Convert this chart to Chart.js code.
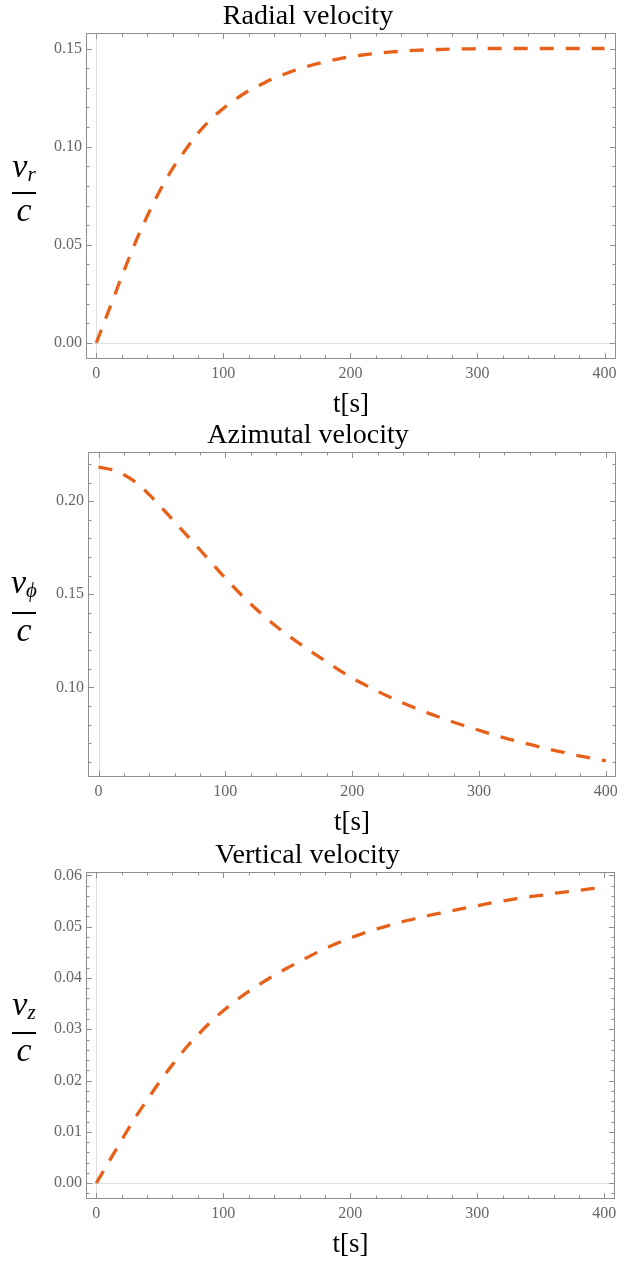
<!DOCTYPE html>
<html>
<head>
<meta charset="utf-8">
<script src="https://cdn.jsdelivr.net/npm/chart.js@4.4.0/dist/chart.umd.min.js"></script>
<style>
  html, body { margin:0; padding:0; background:#fff; }
  body { width:631px; height:1264px; position:relative; overflow:hidden; font-family:"Liberation Serif", serif; }
  .panel { position:absolute; left:0; width:631px; }
  .frac { position:absolute; left:-1px; width:50px; display:flex; flex-direction:column; align-items:center;
          font-family:"Liberation Serif", serif; font-style:italic; font-size:34px; color:#000; }
  .frac .num { line-height:32px; height:32px; white-space:nowrap; }
  .frac .num sub { font-size:21px; vertical-align:-4px; line-height:0; }
  .frac .bar { width:24px; height:1.5px; background:#000; }
  .frac .den { line-height:32px; }
</style>
</head>
<body>

<div class="panel" style="top:0px;height:421px"><canvas id="radial" width="631" height="421"></canvas></div>
<div class="panel" style="top:419px;height:420px"><canvas id="azim" width="631" height="420"></canvas></div>
<div class="panel" style="top:839px;height:422px"><canvas id="vert" width="631" height="422"></canvas></div>

<div class="frac" style="top:150px"><div class="num">v<sub>r</sub></div><div class="bar" style="margin-top:10px"></div><div class="den">c</div></div>
<div class="frac" style="top:566px"><div class="num">v<sub>ϕ</sub></div><div class="bar" style="margin-top:14px"></div><div class="den">c</div></div>
<div class="frac" style="top:988px"><div class="num">v<sub>z</sub></div><div class="bar" style="margin-top:12px"></div><div class="den">c</div></div>

<script>
// ── Data ───────────────────────────────────────────────────
const times = [0, 10, 20, 30, 40, 50, 60, 70, 80, 90, 100, 110, 120, 130, 140, 150, 160, 170, 180, 190,
               200, 210, 220, 230, 240, 250, 260, 270, 280, 290, 300, 310, 320, 330, 340, 350, 360, 370, 380, 390, 400];

const radialVel = [0, 0.0168, 0.0338, 0.0500, 0.0645, 0.0775, 0.0888, 0.0982, 0.1068, 0.1138,
                   0.1195, 0.1243, 0.1285, 0.1318, 0.1349, 0.1374, 0.1397, 0.1416, 0.1432, 0.1446,
                   0.1458, 0.1467, 0.1475, 0.1481, 0.1486, 0.1490, 0.1493, 0.1495, 0.1497, 0.1498,
                   0.1499, 0.1500, 0.1500, 0.1500, 0.1500, 0.1500, 0.1500, 0.1500, 0.1500, 0.1500, 0.1500];

const azimVel = [0.2183, 0.2170, 0.2142, 0.2098, 0.2035, 0.1964, 0.1889, 0.1814, 0.1739, 0.1662,
                 0.1586, 0.1515, 0.1448, 0.1386, 0.1328, 0.1277, 0.1228, 0.1182, 0.1137, 0.1092,
                 0.1050, 0.1014, 0.0979, 0.0947, 0.0917, 0.0888, 0.0862, 0.0837, 0.0813, 0.0791,
                 0.0770, 0.0749, 0.0729, 0.0711, 0.0694, 0.0677, 0.0661, 0.0646, 0.0631, 0.0618, 0.0606];

const vertVel = [0, 0.0042, 0.0084, 0.0125, 0.0162, 0.0198, 0.0231, 0.0262, 0.0289, 0.0314,
                 0.0336, 0.0356, 0.0374, 0.0390, 0.0405, 0.0419, 0.0432, 0.0445, 0.0457, 0.0468,
                 0.0478, 0.0487, 0.0495, 0.0502, 0.0509, 0.0515, 0.0521, 0.0526, 0.0531, 0.0536,
                 0.0541, 0.0546, 0.0550, 0.0554, 0.0558, 0.0561, 0.0565, 0.0568, 0.0571, 0.0574, 0.0577];

const titles = ['Radial velocity', 'Azimutal velocity', 'Vertical velocity'];
const xTitle = 't[s]';
const xMajor = 100, xMinor = 20;

const LINE = '#e8611a';
const FRAME = '#8e8e8e';
const SERIF = '"Liberation Serif", "DejaVu Serif", serif';

// ── Frame with inward ticks (Mathematica style) ────────────
const frameTicks = {
    id: 'frameTicks',
    beforeDatasetsDraw(chart) {
        const { ctx, chartArea: a, scales: { x, y } } = chart;
        ctx.save();
        ctx.strokeStyle = '#dedede';
        ctx.lineWidth = 1;
        ctx.beginPath();
        if (x.min <= 0 && x.max >= 0) {
            const px = Math.round(x.getPixelForValue(0)) + 0.5;
            ctx.moveTo(px, a.top); ctx.lineTo(px, a.bottom);
        }
        if (y.min <= 0 && y.max >= 0) {
            const py = Math.round(y.getPixelForValue(0)) + 0.5;
            ctx.moveTo(a.left, py); ctx.lineTo(a.right, py);
        }
        ctx.stroke();
        ctx.restore();
    },
    afterDatasetsDraw(chart, args, opts) {
        const { ctx, chartArea: a, scales: { x, y } } = chart;
        const L = Math.round(a.left) + 0.5, R = Math.round(a.right) - 0.5;
        const T = Math.round(a.top) + 0.5, B = Math.round(a.bottom) - 0.5;
        ctx.save();
        ctx.strokeStyle = FRAME;
        ctx.lineWidth = 1;
        ctx.strokeRect(L, T, R - L, B - T);
        ctx.beginPath();
        const isMajor = (v, step) => Math.abs(v / step - Math.round(v / step)) < 1e-6;
        // x ticks (bottom + top)
        for (let v = Math.ceil(x.min / xMinor) * xMinor; v <= x.max; v += xMinor) {
            const px = Math.round(x.getPixelForValue(v)) + 0.5;
            const len = isMajor(v, xMajor) ? 5.5 : 3;
            ctx.moveTo(px, B); ctx.lineTo(px, B - len);
            ctx.moveTo(px, T); ctx.lineTo(px, T + len);
        }
        // y ticks (left + right)
        const ys = opts.yMinor, ym = opts.yMajor;
        for (let i = Math.ceil(y.min / ys - 1e-9); i * ys <= y.max + 1e-12; i++) {
            const v = i * ys;
            const py = Math.round(y.getPixelForValue(v)) + 0.5;
            const len = isMajor(v, ym) ? 5.5 : 3;
            ctx.moveTo(L, py); ctx.lineTo(L + len, py);
            ctx.moveTo(R, py); ctx.lineTo(R - len, py);
        }
        ctx.stroke();
        ctx.restore();
    }
};
Chart.register(frameTicks);

// ── Chart builder ──────────────────────────────────────────
function makeChart(id, title, values, cfg) {
    return new Chart(document.getElementById(id), {
        type: 'line',
        data: {
            datasets: [{
                data: times.map((t, i) => ({ x: t, y: values[i] })),
                borderColor: LINE,
                borderWidth: 3.3,
                borderDash: [14, 12],
                borderCapStyle: 'butt',
                cubicInterpolationMode: 'monotone',
                pointRadius: 0,
                fill: false
            }]
        },
        options: {
            responsive: false,
            animation: false,
            events: [],
            layout: { padding: { left: 0, right: cfg.padRight, top: 0, bottom: 0 } },
            plugins: {
                legend: { display: false },
                tooltip: { enabled: false },
                title: {
                    display: true, text: title, color: '#000',
                    font: { family: SERIF, size: 28, weight: 'normal', lineHeight: 1.1 },
                    padding: { top: 1, bottom: 1 }
                },
                frameTicks: { yMajor: cfg.yMajor, yMinor: cfg.yMinor }
            },
            scales: {
                x: {
                    type: 'linear', min: cfg.xMin, max: cfg.xMax,
                    grid: { display: false, drawTicks: false },
                    border: { display: false },
                    ticks: {
                        stepSize: xMajor, includeBounds: false, padding: 5,
                        color: '#666', font: { family: SERIF, size: 16 },
                        maxRotation: 0,
                        callback: v => String(v)
                    },
                    title: {
                        display: true, text: xTitle, color: '#000',
                        font: { family: SERIF, size: 27, lineHeight: 1.2 },
                        padding: { top: 0, bottom: 0 }
                    },
                    afterFit: s => { s.height = 62; }
                },
                y: {
                    type: 'linear', min: cfg.yMin, max: cfg.yMax,
                    grid: { display: false, drawTicks: false },
                    border: { display: false },
                    ticks: {
                        stepSize: cfg.yMajor, includeBounds: false, padding: 4,
                        color: '#666', font: { family: SERIF, size: 16 },
                        callback: v => Number(v).toFixed(2)
                    },
                    afterFit: s => { s.width = cfg.yWidth; }
                }
            }
        }
    });
}

makeChart('radial', titles[0], radialVel,
    { xMin: -8.1, xMax: 409, yMin: -0.0082, yMax: 0.158, yMajor: 0.05, yMinor: 0.01, yWidth: 86, padRight: 15 });
makeChart('azim', titles[1], azimVel,
    { xMin: -8.3, xMax: 408, yMin: 0.0519, yMax: 0.2265, yMajor: 0.05, yMinor: 0.01, yWidth: 88, padRight: 15 });
makeChart('vert', titles[2], vertVel,
    { xMin: -8.1, xMax: 408.4, yMin: -0.0031, yMax: 0.0607, yMajor: 0.01, yMinor: 0.002, yWidth: 86, padRight: 16 });
</script>
</body>
</html>
